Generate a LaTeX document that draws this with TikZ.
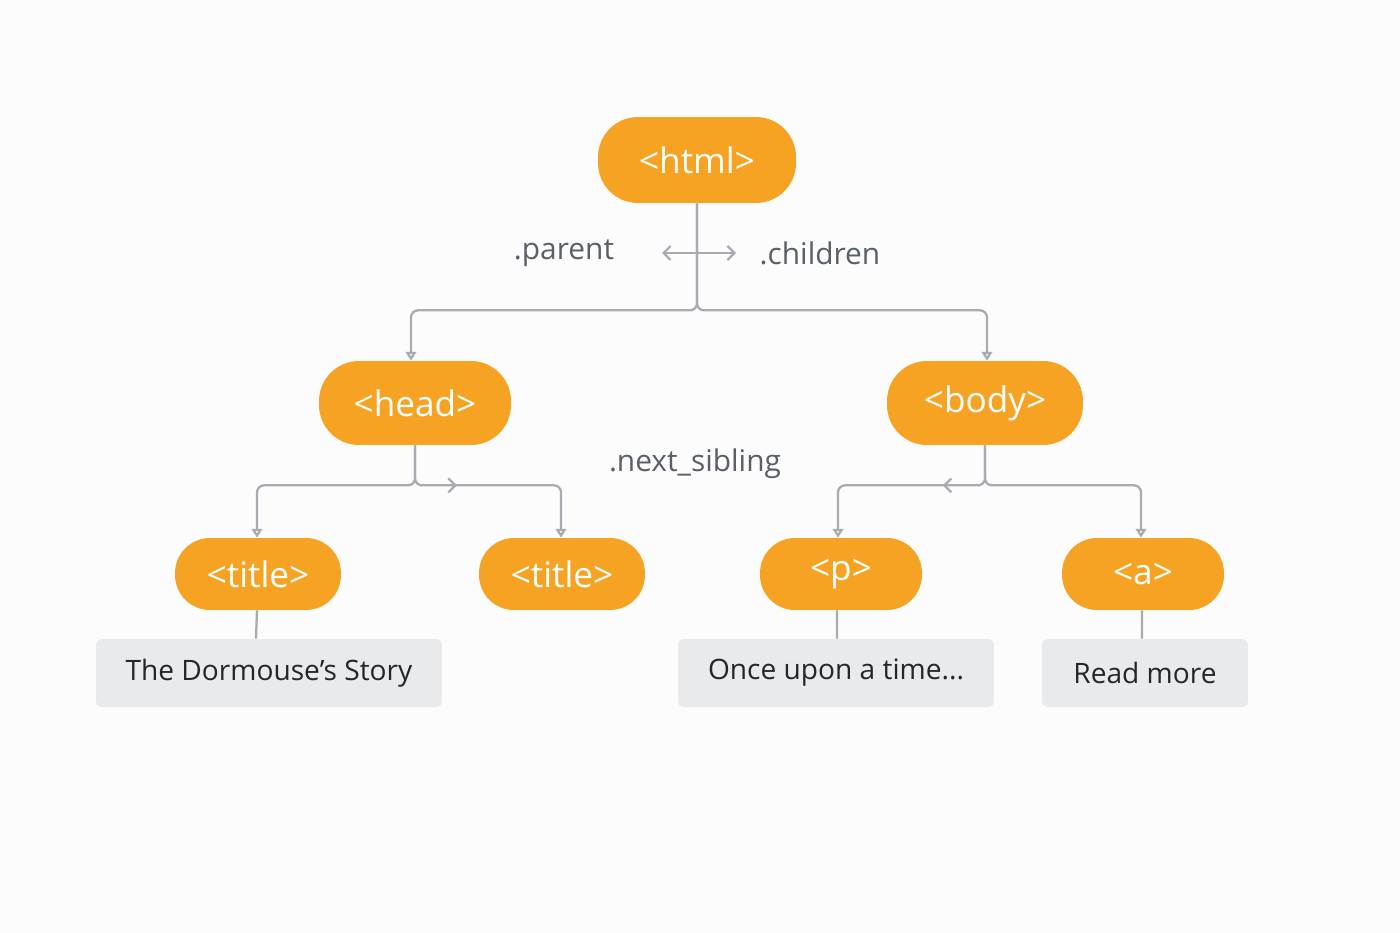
\documentclass[tikz,border=0pt]{standalone}
\usepackage{fontspec}
\setmainfont{Open Sans}
\usetikzlibrary{arrows.meta,decorations.markings}
\definecolor{tagorange}{HTML}{F6A324}
\definecolor{linegray}{HTML}{A8ACB2}
\definecolor{labelgray}{HTML}{5A6068}
\definecolor{boxgray}{HTML}{E9EAEC}
\tikzset{
  tag/.style={fill=tagorange, text=white, rounded corners=0.8cm, inner sep=0pt,
    font=\fontsize{20}{24}\selectfont},
  txt/.style={fill=boxgray, text=black!85, rounded corners=3pt, inner sep=0pt,
    minimum height=1.36cm, font=\fontsize{16}{19}\selectfont},
  lbl/.style={text=labelgray, font=\fontsize{17}{20}\selectfont},
  link/.style={draw=linegray, line width=1.3pt, rounded corners=4pt},
  down/.style={link, -{Triangle[open,length=5pt,width=6pt]}},
  mid/.style={postaction={decorate}, decoration={markings,
    mark=at position #1 with {\arrow[linegray,line width=1.3pt]{Straight Barb[length=4pt,width=8pt]}}}}
}
\begin{document}
\begin{tikzpicture}[x=0.02cm,y=-0.02cm]
    \fill[white!99!black] (0,0) rectangle (1400,933);
    \useasboundingbox (0,0) rectangle (1400,933);

    % element nodes
    \node[tag, minimum width=3.96cm, minimum height=1.72cm] (html) at (697,160) {<html>};
    \node[tag, minimum width=3.84cm, minimum height=1.68cm] (head) at (415,403) {<head>};
    \node[tag, minimum width=3.92cm, minimum height=1.68cm] (body) at (985,403) {<body>};
    \node[tag, rounded corners=0.7cm, minimum width=3.32cm, minimum height=1.44cm] (title1) at (258,574) {<title>};
    \node[tag, rounded corners=0.7cm, minimum width=3.32cm, minimum height=1.44cm] (title2) at (562,574) {<title>};
    \node[tag, rounded corners=0.7cm, minimum width=3.24cm, minimum height=1.44cm] (para) at (841,574) {<p>};
    \node[tag, rounded corners=0.7cm, minimum width=3.24cm, minimum height=1.44cm] (anchor) at (1143,574) {<a>};

    % text nodes
    \node[txt, minimum width=6.92cm] (story) at (269,673) {The Dormouse's Story};
    \node[txt, minimum width=6.32cm] (once) at (836,673) {Once upon a time...};
    \node[txt, minimum width=4.12cm] (more) at (1145,673) {Read more};

    % labels
    \node[lbl] (parent) at (564,253) {.parent};
    \node[lbl] (children) at (820,253) {.children};
    \node[lbl] (sibling) at (695,464) {.next\_sibling};
    \coordinate (pl) at (662,253);
    \coordinate (pr) at (736,253);
    \draw[link, {Straight Barb[length=4pt,width=8pt]}-{Straight Barb[length=4pt,width=8pt]}] (pl) -- (pr);

    % tree links
    \draw[down] (html.south) -- ++(0,107) -| ([xshift=-0.08cm]head.north);
    \draw[down] (html.south) -- ++(0,107) -| ([xshift=0.04cm]body.north);
    \draw[down] (head.south) -- ++(0,40) -| ([xshift=-0.02cm]title1.north);
    \draw[down, mid=0.34] (head.south) -- ++(0,40) -| ([xshift=-0.02cm]title2.north);
    \draw[down, mid=0.34] (body.south) -- ++(0,40) -| ([xshift=-0.06cm]para.north);
    \draw[down] (body.south) -- ++(0,40) -| ([xshift=-0.04cm]anchor.north);
    \draw[link] ([xshift=-0.02cm]title1.south) -- ([xshift=-0.26cm]story.north);
    \draw[link] ([xshift=-0.08cm]para.south) -- ([xshift=0.02cm]once.north);
    \draw[link] ([xshift=-0.02cm]anchor.south) -- ([xshift=-0.06cm]more.north);
\end{tikzpicture}
\end{document}
